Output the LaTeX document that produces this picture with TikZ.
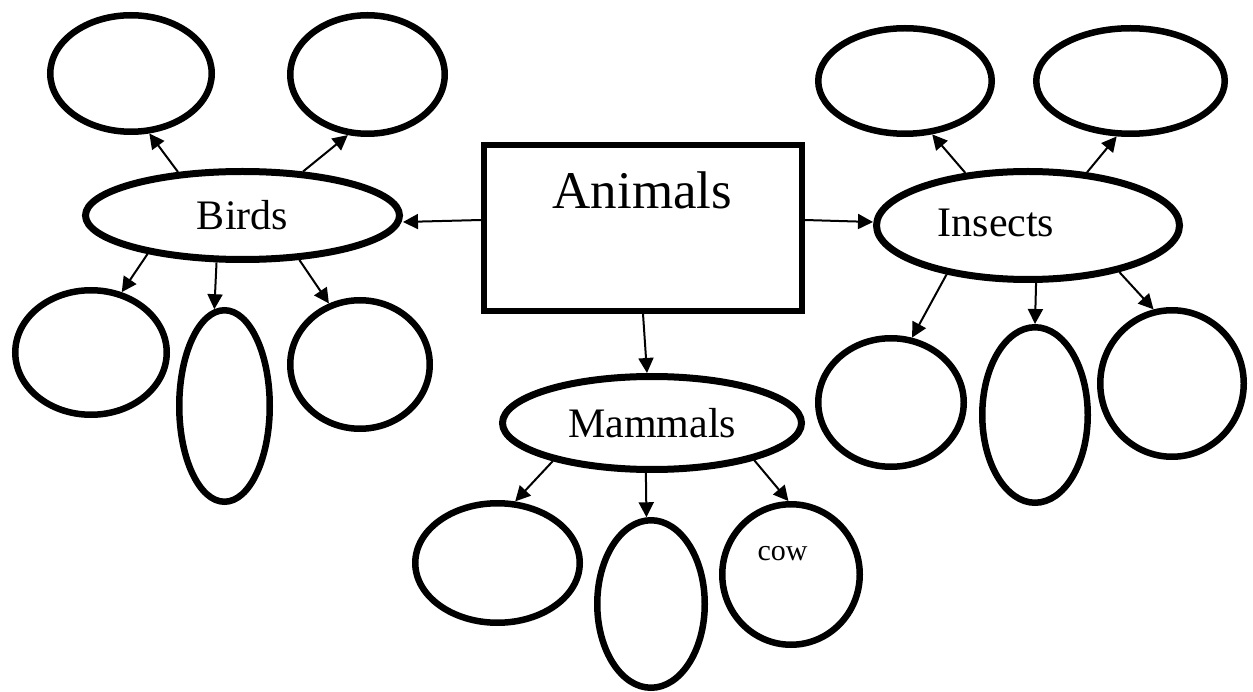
\documentclass[tikz,border=0pt]{standalone}
\usepackage{fontspec}
\setmainfont{Liberation Serif}
\usetikzlibrary{shapes.geometric,arrows.meta,calc}
\begin{document}
\begin{tikzpicture}[x=1pt,y=-1pt,
  oval/.style={draw,ellipse,line width=6.5pt,inner sep=0pt,minimum width=#1},
  main/.style={draw,ellipse,line width=7pt,inner sep=0pt},
  conn/.style={line width=2pt,-{Triangle[length=15pt,width=15pt]}},
  big/.style={font=\fontsize{42}{50}\selectfont}
]
\useasboundingbox (0,0) rectangle (1253,692);
% central box
\node[draw,line width=6pt,minimum width=317.5pt,minimum height=165.5pt,inner sep=0pt] (R) at (643,228) {};
\node[anchor=base,font=\fontsize{53}{60}\selectfont] (Rt) at (642.5,209) {Animals};
% Birds
\node[main,minimum width=314pt,minimum height=88pt,big] (birds) at (242.5,215.5) {Birds};
\node[oval=161.5pt,minimum height=116.5pt] (bT1) at (131,73.5) {};
\node[oval=154.5pt,minimum height=118.5pt] (bT2) at (367.5,74.5) {};
\node[oval=151.5pt,minimum height=124.5pt] (bB1) at (91,352.5) {};
\node[oval=90.5pt,minimum height=191.5pt] (bB2) at (224.5,406) {};
\node[oval=139.5pt,minimum height=128.5pt] (bB3) at (360,364.5) {};
% Insects
\node[main,minimum width=303pt,minimum height=108pt] (ins) at (1028,225.5) {};
\node[anchor=base,big] (inst) at (996,237) {Insects};
\node[oval=173.5pt,minimum height=105.5pt] (iT1) at (905,81) {};
\node[oval=188.5pt,minimum height=105.5pt] (iT2) at (1130.5,81) {};
\node[oval=145.5pt,minimum height=128.5pt] (iB1) at (891,402.5) {};
\node[oval=105.5pt,minimum height=175.5pt] (iB2) at (1035,415) {};
\node[oval=143.5pt,minimum height=146.5pt] (iB3) at (1172,383.5) {};
% Mammals
\node[main,minimum width=299pt,minimum height=93pt,big] (mam) at (652,423) {Mammals};
\node[oval=164.5pt,minimum height=119.5pt] (mB1) at (497.5,563) {};
\node[oval=107.5pt,minimum height=167.5pt] (mB2) at (651,604) {};
\node[oval=137.5pt,minimum height=140.5pt] (mB3) at (791,574.5) {};
\node[anchor=base,font=\fontsize{30}{36}\selectfont] (cow) at (782.5,560.7) {cow};
% connectors from box
\draw[conn] ([yshift=8pt]R.west) -- ([yshift=-6.5pt]birds.east);
\draw[conn] ([yshift=8pt]R.east) -- ([yshift=3.5pt]ins.west);
\draw[conn] (R.south) -- ([xshift=-5pt]mam.north);
% Birds connectors
\draw[conn] (birds.146) -- (bT1.287);
\draw[conn] (birds.36) -- (bT2.252);
\draw[conn] (birds.202) -- (bB1.63);
\draw[conn] (birds.241) -- (bB2.96);
\draw[conn] (birds.322) -- (bB3.117);
% Insects connectors
\draw[conn] (ins.140) -- (iT1.297);
\draw[conn] (ins.42) -- (iT2.256);
\draw[conn] (ins.211) -- (iB1.72);
\draw[conn] (ins.278) -- (iB2.90);
\draw[conn] (ins.333) -- (iB3.104);
% Mammals connectors
\draw[conn] (mam.201) -- (mB1.74);
\draw[conn] (mam.263) -- (mB2.93);
\draw[conn] (mam.340) -- (mB3.92);
\end{tikzpicture}
\end{document}
